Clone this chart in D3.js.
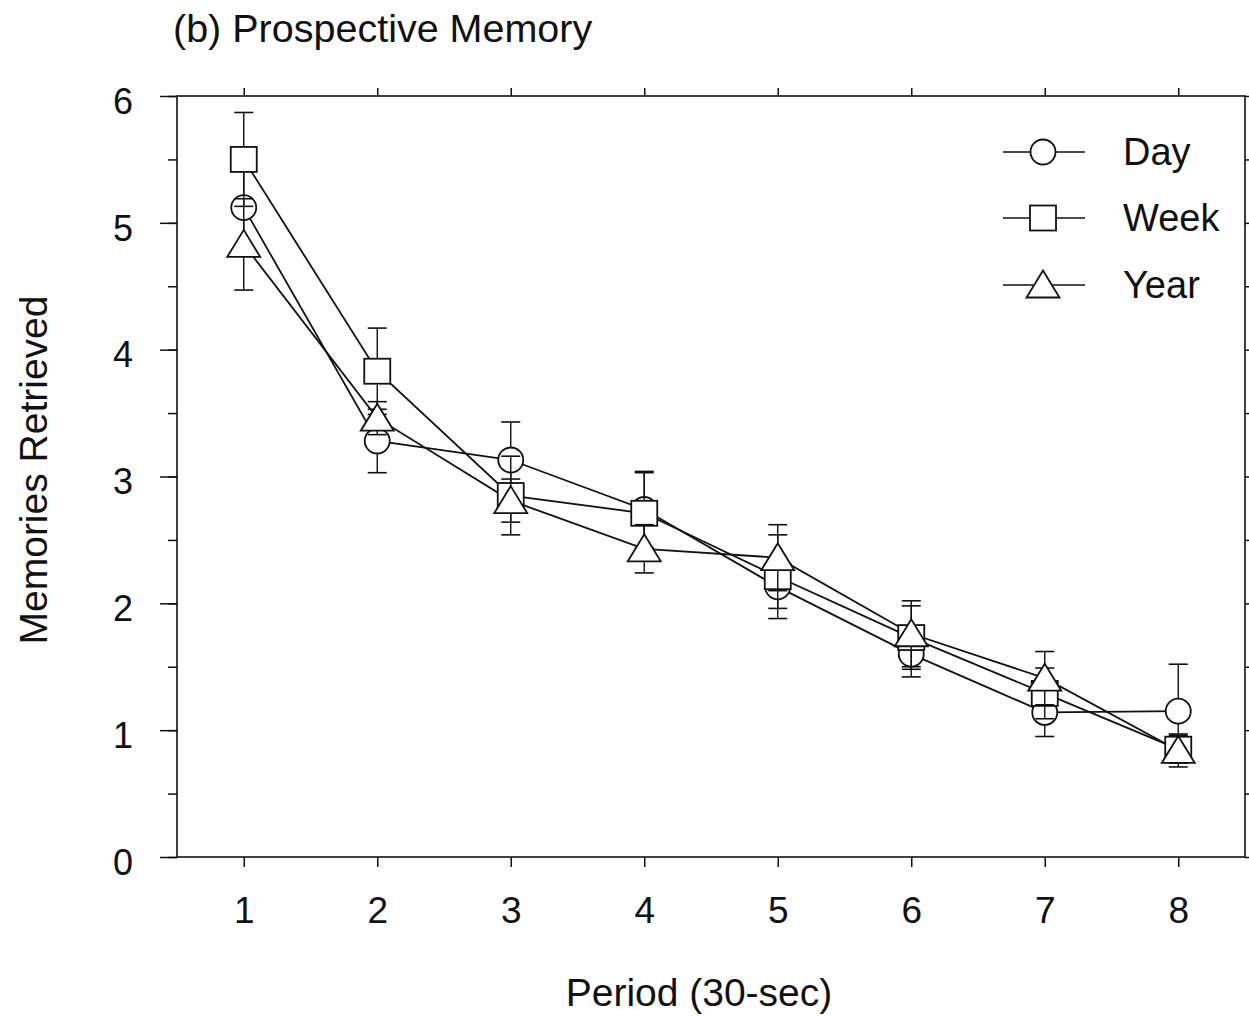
<!DOCTYPE html>
<html>
<head>
<meta charset="utf-8">
<script src="https://cdn.jsdelivr.net/npm/d3@7"></script>
<style>
  html, body { margin: 0; padding: 0; background: #fff; }
  svg { display: block; }
  text { font-family: "Liberation Sans", Arial, Helvetica, sans-serif; fill: #111; }
</style>
</head>
<body>
<svg id="chart" width="1249" height="1016"></svg>
<script>
// ---- data ----
const periods = [1, 2, 3, 4, 5, 6, 7, 8];
const seriesNames = ["Day", "Week", "Year"];
const dayMeans  = [5.12, 3.28, 3.13, 2.74, 2.13, 1.60, 1.14, 1.15];
const dayErr    = [0.30, 0.25, 0.30, 0.30, 0.17, 0.18, 0.19, 0.37];
const weekMeans = [5.50, 3.83, 2.85, 2.71, 2.21, 1.73, 1.29, 0.85];
const weekErr   = [0.37, 0.34, 0.31, 0.32, 0.33, 0.25, 0.20, 0.11];
const yearMeans = [4.83, 3.46, 2.81, 2.43, 2.36, 1.76, 1.41, 0.84];
const yearErr   = [0.36, 0.13, 0.17, 0.19, 0.26, 0.26, 0.21, 0.13];
const yTicks = [0, 1, 2, 3, 4, 5, 6];
const yMinorTicks = [0, 0.5, 1, 1.5, 2, 2.5, 3, 3.5, 4, 4.5, 5, 5.5, 6];
const titleText = "(b) Prospective Memory";
const xTitle = "Period (30-sec)";
const yTitle = "Memories Retrieved";

const series = [
  { name: "Day",  shape: "circle",   means: dayMeans,  err: dayErr },
  { name: "Week", shape: "square",   means: weekMeans, err: weekErr },
  { name: "Year", shape: "triangle", means: yearMeans, err: yearErr }
];

// ---- layout ----
const svg = d3.select("#chart");
const pLeft = 177, pRight = 1245, pTop = 96, pBottom = 857;
const x = d3.scaleLinear().domain([0.5, 8.5]).range([pLeft, pRight]);
const y = d3.scaleLinear().domain([0, 6]).range([pBottom, pTop]);
const ink = "#111";

// frame
svg.append("rect")
  .attr("x", pLeft).attr("y", pTop)
  .attr("width", pRight - pLeft).attr("height", pBottom - pTop)
  .attr("fill", "none").attr("stroke", ink).attr("stroke-width", 1.6);

// axes
function styleAxis(g, fs) {
  g.select(".domain").remove();
  g.selectAll(".tick line").attr("stroke", ink).attr("stroke-width", 1.5);
  g.selectAll(".tick text").attr("font-size", fs)
    .attr("font-family", '"Liberation Sans", Arial, sans-serif').attr("fill", ink);
}

svg.append("g").attr("transform", `translate(${pLeft},0)`)
  .call(d3.axisLeft(y).tickValues(yMinorTicks).tickSize(9).tickFormat(""))
  .call(styleAxis, 36);
const yAxisG = svg.append("g").attr("transform", `translate(${pLeft},0)`)
  .call(d3.axisLeft(y).tickValues(yTicks).tickSize(17).tickPadding(27).tickFormat(d3.format("d")))
  .call(styleAxis, 36);
yAxisG.selectAll(".tick text").attr("dy", "0.48em");
svg.append("g").attr("transform", `translate(${pRight},0)`)
  .call(d3.axisRight(y).tickValues(yMinorTicks).tickSize(8).tickFormat(""))
  .call(styleAxis, 36);
svg.append("g").attr("transform", `translate(0,${pTop})`)
  .call(d3.axisTop(x).tickValues(periods).tickSize(8).tickFormat(""))
  .call(styleAxis, 36);
svg.append("g").attr("transform", `translate(0,${pBottom})`)
  .call(d3.axisBottom(x).tickValues(periods).tickSize(10).tickPadding(30).tickFormat(d3.format("d")))
  .call(styleAxis, 37);

// titles
svg.append("text").attr("x", 173).attr("y", 42)
  .attr("font-size", 39.5).text(titleText);
svg.append("text").attr("x", 699).attr("y", 1006)
  .attr("text-anchor", "middle").attr("font-size", 39).text(xTitle);
svg.append("text")
  .attr("transform", `translate(47,470) rotate(-90)`)
  .attr("text-anchor", "middle").attr("font-size", 39).text(yTitle);

// marker drawing
function drawMarker(g, shape, cx, cy) {
  const sw = 1.8;
  if (shape === "circle") {
    g.append("circle").attr("cx", cx).attr("cy", cy).attr("r", 12.5)
      .attr("fill", "#fff").attr("stroke", ink).attr("stroke-width", sw);
  } else if (shape === "square") {
    g.append("rect").attr("x", cx - 13).attr("y", cy - 12.5)
      .attr("width", 26).attr("height", 25)
      .attr("fill", "#fff").attr("stroke", ink).attr("stroke-width", sw);
  } else {
    const w = 33, h = 27;
    g.append("path")
      .attr("d", `M${cx},${cy - h / 2 - 1} L${cx + w / 2},${cy + h / 2 - 1} L${cx - w / 2},${cy + h / 2 - 1} Z`)
      .attr("fill", "#fff").attr("stroke", ink).attr("stroke-width", sw)
      .attr("stroke-linejoin", "miter");
  }
}

// connecting lines (all first)
const line = d3.line().x((d, i) => x(periods[i])).y(d => y(d));
const plot = svg.append("g");
series.forEach(s => {
  plot.append("path").datum(s.means).attr("d", line)
    .attr("fill", "none").attr("stroke", ink).attr("stroke-width", 1.8);
});

// error bars then markers, series by series
const capHalf = 9.5;
series.forEach(s => {
  const g = plot.append("g");
  s.means.forEach((m, i) => {
    const cx = x(periods[i]);
    const y1 = y(m + s.err[i]), y0 = y(m - s.err[i]);
    g.append("line").attr("x1", cx).attr("x2", cx).attr("y1", y1).attr("y2", y0)
      .attr("stroke", ink).attr("stroke-width", 1.4);
    [y1, y0].forEach(yy => g.append("line")
      .attr("x1", cx - capHalf).attr("x2", cx + capHalf).attr("y1", yy).attr("y2", yy)
      .attr("stroke", ink).attr("stroke-width", 1.6));
  });
  s.means.forEach((m, i) => drawMarker(g, s.shape, x(periods[i]), y(m)));
});

// legend
const legendY = [152, 218, 285];
series.forEach((s, i) => {
  const g = svg.append("g");
  g.append("line").attr("x1", 1003).attr("x2", 1085)
    .attr("y1", legendY[i]).attr("y2", legendY[i])
    .attr("stroke", ink).attr("stroke-width", 1.6);
  drawMarker(g, s.shape, 1043, legendY[i]);
  g.append("text").attr("x", 1123).attr("y", legendY[i] + 13)
    .attr("font-size", 38).text(seriesNames[i]);
});
</script>
</body>
</html>
